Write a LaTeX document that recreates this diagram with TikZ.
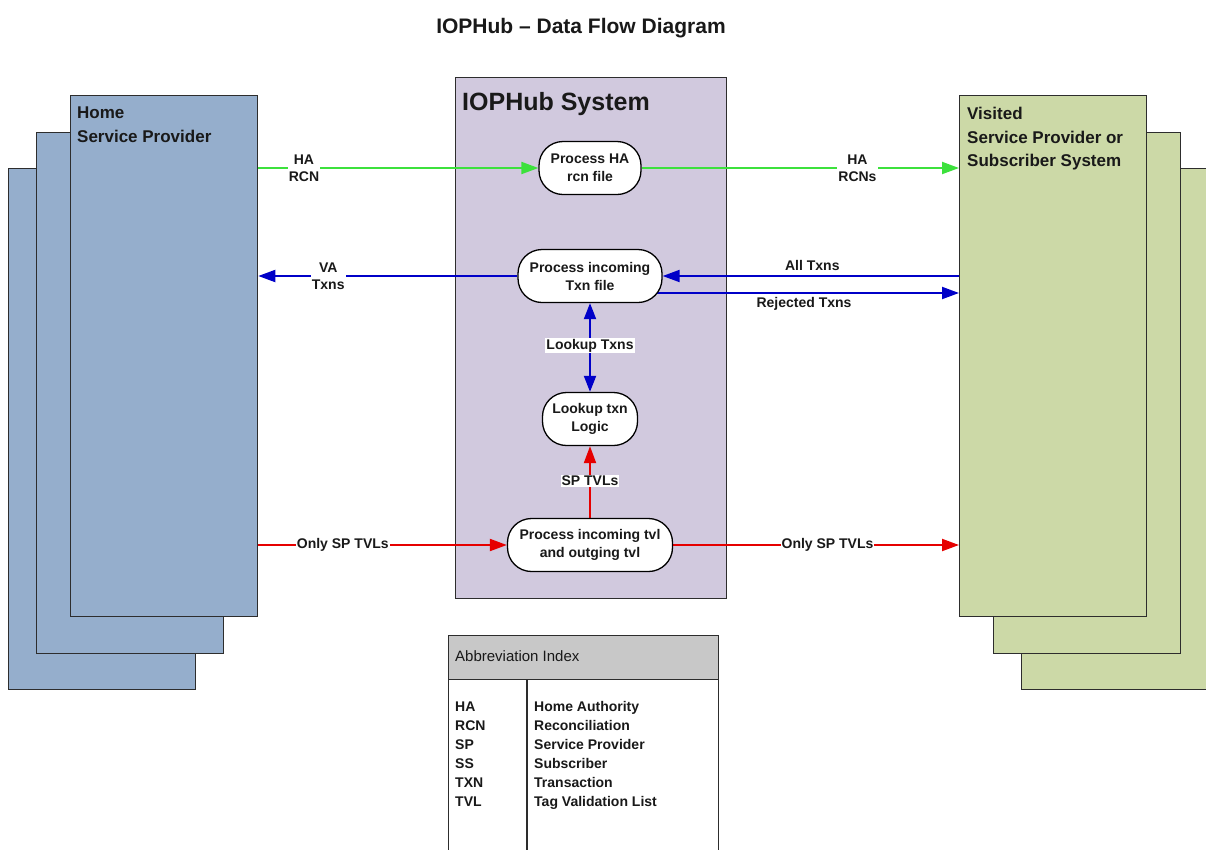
\documentclass[tikz,border=0pt]{standalone}
\usepackage{fontspec}
\setmainfont{Liberation Sans}
\usetikzlibrary{arrows.meta,calc}
\definecolor{hspfill}{RGB}{149,174,204}
\definecolor{vspfill}{RGB}{204,217,167}
\definecolor{hubfill}{RGB}{209,201,222}
\definecolor{hdrfill}{RGB}{200,200,200}
\definecolor{edgecol}{RGB}{45,45,45}
\definecolor{txtcol}{RGB}{25,25,25}
\definecolor{flowgreen}{RGB}{60,225,60}
\definecolor{flowblue}{RGB}{0,0,200}
\definecolor{flowred}{RGB}{230,0,0}
\pgfdeclarelayer{boxes}
\pgfdeclarelayer{flows}
\pgfsetlayers{boxes,flows,main}
\begin{document}
\begin{tikzpicture}[x=1pt,y=-1pt,
  stackbox/.style={draw=edgecol, line width=1.3pt, rectangle, minimum width=187pt, minimum height=521pt, anchor=north west, inner sep=0pt},
  hsp/.style={stackbox, fill=hspfill},
  vsp/.style={stackbox, fill=vspfill},
  boxtitle/.style={anchor=north west, inner sep=0pt, align=left, text=txtcol, font=\fontsize{17}{23.5}\selectfont\bfseries},
  proc/.style={draw=black, line width=1.3pt, fill=white, rectangle, rounded corners=24pt, minimum height=53pt, inner sep=0pt, align=center, text=txtcol, font=\fontsize{14}{18}\selectfont\bfseries},
  flowlabel/.style={font=\fontsize{14}{17}\selectfont\bfseries, align=center, inner sep=1pt, fill=white, text=txtcol},
  flow/.style={line width=2pt, -{Triangle[length=17pt,width=12pt]}},
  bothflow/.style={line width=2pt, {Triangle[length=16pt,width=12pt]}-{Triangle[length=16pt,width=12pt]}},
  tabtxt/.style={anchor=base west, inner sep=0pt, text=txtcol, font=\fontsize{14}{17}\selectfont\bfseries},
  tabframe/.style={draw=edgecol, line width=1.3pt, rectangle, minimum width=270pt, anchor=north west, inner sep=0pt}
]
\useasboundingbox (0,0) rectangle (1206,849);

\begin{pgfonlayer}{boxes}
  \fill[white] (0,0) rectangle (1206,849);
  % Home service provider stack
  \node[hsp] (hspC) at (8,168) {};
  \node[hsp] (hspB) at (36,132) {};
  \node[hsp] (hspA) at (70,95) {};
  % Visited service provider stack
  \node[vsp] (vspC) at (1021,168) {};
  \node[vsp] (vspB) at (993,132) {};
  \node[vsp] (vspA) at (959,95) {};
  % IOPHub system
  \node[draw=edgecol, line width=1.3pt, fill=hubfill, rectangle, minimum width=271pt, minimum height=521pt, anchor=north west, inner sep=0pt] (hub) at (455,77) {};
  % Abbreviation table
  \node[tabframe, fill=hdrfill, minimum height=44pt] (abhead) at (448,635) {};
  \node[tabframe, fill=white, minimum height=176pt] (abbody) at (448,679) {};
  \coordinate (divx) at (527,700);
  \draw[edgecol, line width=1.3pt] (abbody.north -| divx) -- (abbody.south -| divx);
\end{pgfonlayer}

% titles
\node[anchor=base, inner sep=0pt, text=txtcol, font=\fontsize{21}{25}\selectfont\bfseries] (title) at (581,33) {IOPHub – Data Flow Diagram};
\node[boxtitle] (hsptitle) at (77,107) {Home\\Service Provider};
\node[boxtitle] (vsptitle) at (967,107) {Visited\\Service Provider or\\Subscriber System};
\node[anchor=base west, inner sep=0pt, text=txtcol, font=\fontsize{25}{30}\selectfont\bfseries] (hubtitle) at (462,110) {IOPHub System};

% processes
\node[proc, minimum width=102pt] (ha) at (590,168) {Process HA\\rcn file};
\node[proc, minimum width=144pt] (txn) at (590,276) {Process incoming\\Txn file};
\node[proc, minimum width=95pt] (lk) at (590,419) {Lookup txn\\Logic};
\node[proc, minimum width=165pt] (tvl) at (590,545) {Process incoming tvl\\and outging tvl};
\coordinate (rjs) at ($(txn.center)+(0,17)$);

\begin{pgfonlayer}{flows}
  \draw[flow, flowgreen] (ha.west -| hspA.east) -- node[flowlabel, pos=0.163] (lblha) {HA\\RCN} (ha.west);
  \draw[flow, flowgreen] (ha.east) -- node[flowlabel, pos=0.68] (lblhas) {HA\\RCNs} (ha.east -| vspA.west);
  \draw[flow, flowblue] (txn.west) -- node[flowlabel, pos=0.73] (lblva) {VA\\Txns} (txn.west -| hspA.east);
  \draw[flow, flowblue] (txn.east -| vspA.west) -- node[flowlabel, fill=none, pos=0.495, above=3pt] (lblall) {All Txns} (txn.east);
  \draw[flow, flowblue] (rjs) -- node[flowlabel, fill=none, pos=0.58, below=2pt] (lblrej) {Rejected Txns} (rjs -| vspA.west);
  \draw[bothflow, flowblue] (txn.south) -- node[flowlabel, pos=0.48] (lbllk) {Lookup Txns} (lk.north);
  \draw[flow, flowred] (tvl.north) -- node[flowlabel, pos=0.52] (lblsp) {SP TVLs} (lk.south);
  \draw[flow, flowred] (tvl.west -| hspA.east) -- node[flowlabel, pos=0.34] (lblonl) {Only SP TVLs} (tvl.west);
  \draw[flow, flowred] (tvl.east) -- node[flowlabel, pos=0.54] (lblonr) {Only SP TVLs} (tvl.east -| vspA.west);
\end{pgfonlayer}

% abbreviation index
\node[anchor=base west, inner sep=0pt, text=txtcol, font=\fontsize{15}{18}\selectfont] (abtitle) at (455,661) {Abbreviation Index};
\foreach \k/\v [count=\i] in {HA/Home Authority, RCN/Reconciliation, SP/Service Provider, SS/Subscriber, TXN/Transaction, TVL/Tag Validation List}{
  \node[tabtxt] (abk\i) at (455,{692+19*\i}) {\k};
  \node[tabtxt] (abv\i) at (534,{692+19*\i}) {\v};
}
\end{tikzpicture}
\end{document}
